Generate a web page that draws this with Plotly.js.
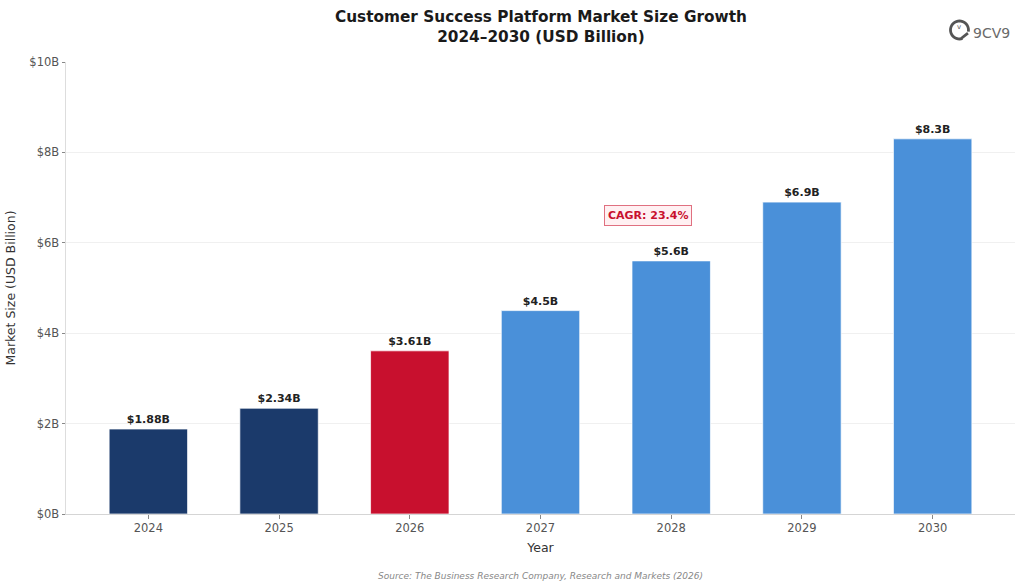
<!DOCTYPE html>
<html>
<head>
<meta charset="utf-8">
<script src="https://cdn.plot.ly/plotly-3.0.1.min.js"></script>
<style>
  html, body { margin: 0; padding: 0; background: #ffffff; }
  #chart { width: 1024px; height: 588px; }
</style>
</head>
<body>
<div id="chart"></div>
<script>
// Market size by year, USD billions
const years = ['2024', '2025', '2026', '2027', '2028', '2029', '2030'];
const marketSize = [1.88, 2.34, 3.61, 4.5, 5.6, 6.9, 8.3];
const barLabels = ['$1.88B', '$2.34B', '$3.61B', '$4.5B', '$5.6B', '$6.9B', '$8.3B'];
// historical / current year / projected
const barColors = ['#1b3a6b', '#1b3a6b', '#c8102e', '#4a90d9', '#4a90d9', '#4a90d9', '#4a90d9'];
const yTickVals = [0, 2, 4, 6, 8, 10];
const yTickText = ['$0B', '$2B', '$4B', '$6B', '$8B', '$10B'];
const cagrText = 'CAGR: 23.4%';
const titleText = 'Customer Success Platform Market Size Growth<br>2024–2030 (USD Billion)';
const sourceText = 'Source: The Business Research Company, Research and Markets (2026)';

const font = 'DejaVu Sans, Verdana, sans-serif';

// ring of the brand icon (pixel offsets around its centre), open at lower right
function ringPath(r, fromDeg, toDeg) {
  const pts = [];
  for (let a = fromDeg; a <= toDeg; a += 10) {
    const t = a * Math.PI / 180;
    pts.push((r * Math.cos(t)).toFixed(2) + ',' + (r * Math.sin(t)).toFixed(2));
  }
  return 'M ' + pts.join(' L ') + ' M ' + (r * Math.cos(-20 * Math.PI / 180)).toFixed(2) + ',' +
    (r * Math.sin(-20 * Math.PI / 180)).toFixed(2) + ' L 1,-9';
}

const trace = {
  type: 'bar',
  x: years.map((_, i) => i),
  y: marketSize,
  width: 0.6,
  marker: { color: barColors, line: { color: 'rgba(255,255,255,0.7)', width: 1 } },
  text: barLabels,
  textposition: 'outside',
  cliponaxis: false,
  textfont: { family: font, size: 11, color: '#222222', weight: 'bold' },
  hoverinfo: 'skip'
};

const layout = {
  width: 1024,
  height: 588,
  margin: { l: 66, r: 9, t: 62, b: 74 },
  paper_bgcolor: '#ffffff',
  plot_bgcolor: '#ffffff',
  showlegend: false,
  bargap: 0.4,
  xaxis: {
    range: [-0.63, 6.63],
    tickvals: years.map((_, i) => i),
    ticktext: years,
    ticks: 'outside', ticklen: 3.5, tickcolor: '#888888',
    showline: true, linecolor: '#d5d5d5', linewidth: 1,
    showgrid: false, zeroline: false,
    tickfont: { family: font, size: 11.5, color: '#555555' },
    title: { text: 'Year', font: { family: font, size: 12.5, color: '#333333' }, standoff: 8 }
  },
  yaxis: {
    range: [0, 10],
    tickvals: yTickVals,
    ticktext: yTickText,
    ticks: 'outside', ticklen: 3.5, tickcolor: '#888888',
    showline: true, linecolor: '#dddddd', linewidth: 1,
    showgrid: true, gridcolor: '#f0f0f0', gridwidth: 1,
    zeroline: false,
    tickfont: { family: font, size: 11.5, color: '#555555' },
    title: { text: 'Market Size (USD Billion)', font: { family: font, size: 12.5, color: '#333333' }, standoff: 10 }
  },
  annotations: [
    {
      x: 0.5, y: 1.078, xref: 'paper', yref: 'paper', xanchor: 'center', yanchor: 'middle',
      text: '<b>' + titleText + '</b>',
      showarrow: false,
      font: { family: font, size: 15.3, color: '#1a1a1a' }
    },
    {
      x: 3.82, y: 6.6, xref: 'x', yref: 'y',
      text: '<b>' + cagrText + '</b>',
      showarrow: false,
      font: { family: font, size: 11, color: '#c8102e' },
      bgcolor: '#fff0f2', bordercolor: '#e07080', borderwidth: 1, borderpad: 3
    },
    {
      x: 0.5, y: -0.137, xref: 'paper', yref: 'paper', xanchor: 'center', yanchor: 'middle',
      text: '<i>' + sourceText + '</i>',
      showarrow: false,
      font: { family: font, size: 9, color: '#888888' }
    },
    // brand mark in the top-right corner
    {
      x: 0.997, y: 1.065, xref: 'paper', yref: 'paper', xanchor: 'right', yanchor: 'middle',
      text: '9CV9', showarrow: false,
      font: { family: font, size: 14, color: '#6a6a6a' }
    },
    {
      x: 0.9415, y: 1.077, xref: 'paper', yref: 'paper', xanchor: 'center', yanchor: 'middle',
      text: 'v', showarrow: false,
      font: { family: font, size: 7, color: '#555555' }
    }
  ],
  shapes: [
    {
      type: 'path', xref: 'paper', yref: 'paper',
      xsizemode: 'pixel', ysizemode: 'pixel', xanchor: 0.9415, yanchor: 1.0708,
      path: ringPath(9, -10, 290),
      line: { color: '#555555', width: 2.8 }
    }
  ]
};

Plotly.newPlot('chart', [trace], layout, { displayModeBar: false, staticPlot: true });
</script>
</body>
</html>
